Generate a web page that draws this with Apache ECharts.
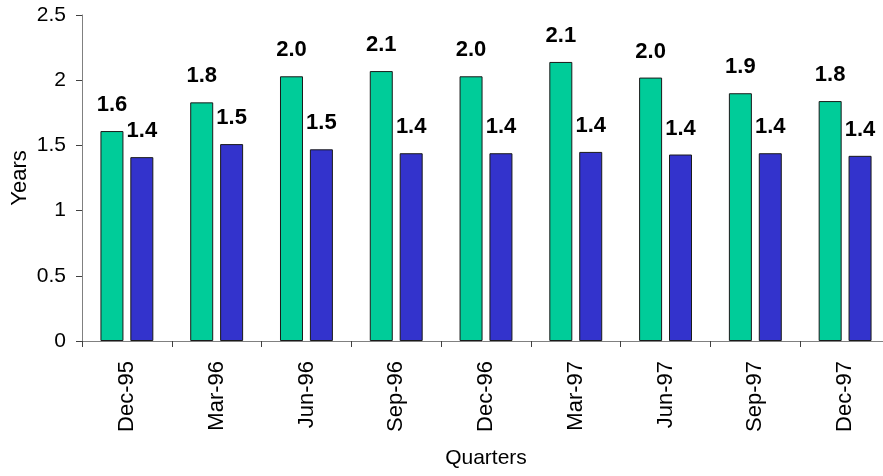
<!DOCTYPE html>
<html>
<head>
<meta charset="utf-8">
<script src="https://cdn.jsdelivr.net/npm/echarts@6/dist/echarts.min.js"></script>
<style>
  html, body { margin: 0; padding: 0; background: #fff; }
  #chart { width: 883px; height: 476px; }
</style>
</head>
<body>
<div id="chart"></div>
<script>
// Quarterly duration figures, in years
const quarters = ['Dec-95', 'Mar-96', 'Jun-96', 'Sep-96', 'Dec-96', 'Mar-97', 'Jun-97', 'Sep-97', 'Dec-97'];
const seriesA = [1.61, 1.83, 2.03, 2.07, 2.03, 2.14, 2.02, 1.90, 1.84];
const seriesB = [1.41, 1.51, 1.47, 1.44, 1.44, 1.45, 1.43, 1.44, 1.42];
const yTicks = { min: 0, max: 2.5, step: 0.5 };

const FONT = '"Liberation Sans", Arial, sans-serif';

const labelStyle = {
  show: true,
  position: 'top',
  distance: 15,
  color: '#000',
  fontFamily: FONT,
  fontWeight: 'bold',
  fontSize: 22,
  formatter: p => p.value.toFixed(1)
};

const chart = echarts.init(document.getElementById('chart'), null, { renderer: 'canvas' });
chart.setOption({
  animation: false,
  backgroundColor: '#fff',
  grid: { left: 82, top: 15, width: 808, height: 326, outerBoundsMode: 'none', containLabel: false },
  xAxis: {
    type: 'category',
    data: quarters,
    name: 'Quarters',
    nameLocation: 'middle',
    nameGap: 107,
    nameMoveOverlap: false,
    nameTextStyle: { fontFamily: FONT, fontSize: 21, color: '#000' },
    axisLine: { lineStyle: { color: '#808080', width: 1 } },
    axisTick: { show: true, length: 6, lineStyle: { color: '#404040' } },
    axisLabel: {
      rotate: 90,
      margin: 20,
      fontFamily: FONT,
      fontSize: 22,
      color: '#000'
    },
    splitLine: { show: false }
  },
  yAxis: {
    type: 'value',
    min: yTicks.min,
    max: yTicks.max,
    interval: yTicks.step,
    name: 'Years',
    nameLocation: 'middle',
    nameGap: 51,
    nameMoveOverlap: false,
    nameRotate: 90,
    nameTextStyle: { fontFamily: FONT, fontSize: 22, color: '#000' },
    axisLine: { show: true, lineStyle: { color: '#808080', width: 1 } },
    axisTick: { show: true, length: 6, lineStyle: { color: '#404040' } },
    axisLabel: { margin: 16, fontFamily: FONT, fontSize: 21, color: '#000' },
    splitLine: { show: false }
  },
  series: [
    {
      type: 'bar',
      data: seriesA,
      barWidth: 23,
      barGap: '30%',
      itemStyle: { color: '#00CC99', borderColor: '#1a1a1a', borderWidth: 1 },
      label: labelStyle
    },
    {
      type: 'bar',
      data: seriesB,
      barWidth: 23,
      itemStyle: { color: '#3333CC', borderColor: '#1a1a1a', borderWidth: 1 },
      label: labelStyle
    }
  ]
});
</script>
</body>
</html>
